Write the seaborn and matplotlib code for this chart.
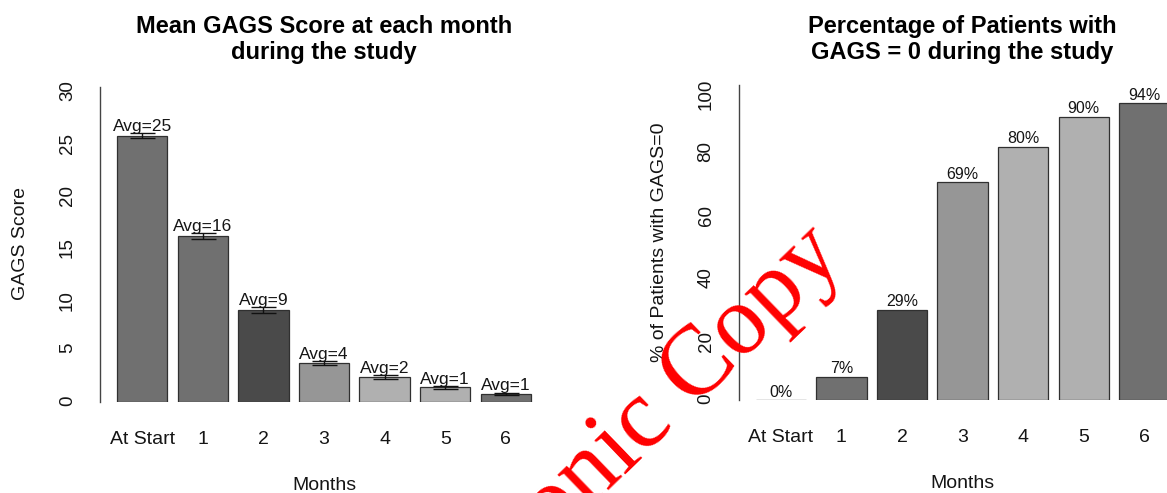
import numpy as np
import matplotlib
matplotlib.use("Agg")
import matplotlib.pyplot as plt
import seaborn as sns

# ---------------------------------------------------------
# Data
# ---------------------------------------------------------
months = ["At Start", "1", "2", "3", "4", "5", "6"]
mean_gags = [25.3, 15.76, 8.68, 3.65, 2.35, 1.35, 0.75]
err_gags = [0.25, 0.28, 0.28, 0.22, 0.2, 0.12, 0.1]
pct_zero = [0, 7.4, 28.6, 69.1, 80.4, 90.0, 94.2]
bar_fill = ["#707070", "#707070", "#4a4a4a", "#969696", "#b0b0b0", "#b0b0b0", "#707070"]

sns.set_style("white")
plt.rcParams["font.family"] = ["Liberation Sans", "DejaVu Sans"]

W, H = 1167, 493
fig = plt.figure(figsize=(W / 100, H / 100), dpi=100)


def px_axes(left, top, width, height):
    return fig.add_axes([left / W, 1 - (top + height) / H, width / W, height / H])


AX_COL = "#444444"
TXT_COL = "#151515"
EDGE = "#303030"


def style_axis(ax, yticks, ylim):
    ax.set_xlim(-0.69, 6.69)
    ax.set_ylim(*ylim)
    ax.set_yticks(yticks)
    for side in ["top", "right", "bottom"]:
        ax.spines[side].set_visible(False)
    ax.spines["left"].set_color(AX_COL)
    ax.spines["left"].set_linewidth(1.0)
    ax.tick_params(axis="y", length=8.6, width=1.0, color=AX_COL, pad=9,
                   labelsize=13.5, labelrotation=90, labelcolor=TXT_COL)
    ax.tick_params(axis="x", length=0, pad=21, labelsize=14, labelcolor=TXT_COL)
    ax.set_facecolor("none")


# ---------------------------------------------------------
# Left panel: mean GAGS score
# ---------------------------------------------------------
ax1 = px_axes(100.4, 86.5, 447.2, 315)
sns.barplot(x=months, y=mean_gags, hue=months, palette=bar_fill, legend=False,
            width=1 / 1.2, edgecolor=EDGE, linewidth=0.9, saturation=1, ax=ax1)
ax1.errorbar(np.arange(len(months)), mean_gags, yerr=err_gags, fmt="none",
             ecolor="#111111", elinewidth=1.0, capsize=9, capthick=1.0)
for i, (v, e) in enumerate(zip(mean_gags, err_gags)):
    ax1.annotate(f"Avg={round(v)}", (i, v + e), xytext=(0, 1.5),
                 textcoords="offset points", ha="center", va="baseline",
                 fontsize=12.5, color=TXT_COL)
style_axis(ax1, range(0, 31, 5), (0, 30))
ax1.set_ylabel("GAGS Score", fontsize=14, va="center", color=TXT_COL)
ax1.yaxis.set_label_coords(-80 / 447.2, 0.5)
ax1.set_xlabel("Months", fontsize=14, va="center", color=TXT_COL)
ax1.xaxis.set_label_coords(0.5, -84 / 315)
fig.text(324 / W, 1 - 59 / H, "Mean GAGS Score at each month\nduring the study",
         ha="center", va="baseline", fontsize=17, fontweight="bold",
         linespacing=1.15, color="black")

# ---------------------------------------------------------
# Right panel: percentage of patients with GAGS = 0
# ---------------------------------------------------------
ax2 = px_axes(739, 85, 447.2, 315)
sns.barplot(x=months, y=pct_zero, hue=months, palette=bar_fill, legend=False,
            width=1 / 1.2, edgecolor=EDGE, linewidth=0.9, saturation=1, ax=ax2)
for i, v in enumerate(pct_zero):
    ax2.annotate(f"{v:.0f}%", (i, v), xytext=(0, 2.5),
                 textcoords="offset points", ha="center", va="baseline",
                 fontsize=11.5, color=TXT_COL)
style_axis(ax2, range(0, 101, 20), (0, 100))
ax2.set_ylabel("% of Patients with GAGS=0", fontsize=14, va="center", color=TXT_COL)
ax2.yaxis.set_label_coords(-80 / 447.2, 0.5)
ax2.set_xlabel("Months", fontsize=14, va="center", color=TXT_COL)
ax2.xaxis.set_label_coords(0.5, -84 / 315)
fig.text(962.6 / W, 1 - 59 / H, "Percentage of Patients with\nGAGS = 0 during the study",
         ha="center", va="baseline", fontsize=17, fontweight="bold",
         linespacing=1.15, color="black")

# watermark stamped across the page
fig.text(846 / W, 1 - 260 / H, "Electronic Copy", rotation=44, rotation_mode="anchor",
         ha="right", va="baseline", fontsize=71, color="red",
         family=["Liberation Serif", "DejaVu Serif"], zorder=10)

fig.savefig("out.png", dpi=100)
